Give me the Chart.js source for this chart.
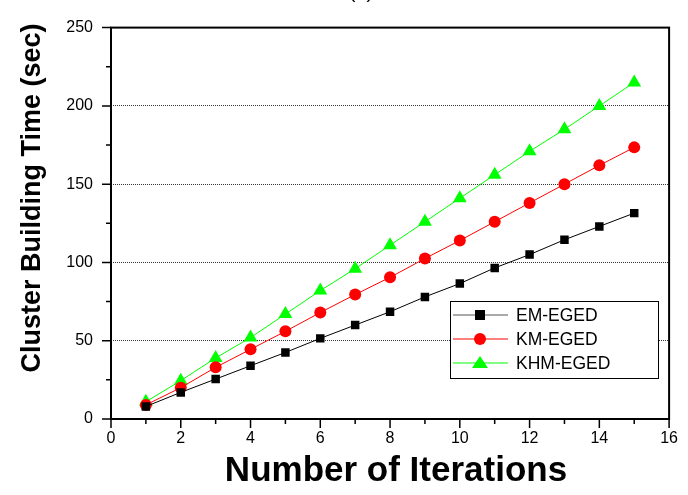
<!DOCTYPE html>
<html>
<head>
<meta charset="utf-8">
<script src="https://cdn.jsdelivr.net/npm/chart.js@4/dist/chart.umd.min.js"></script>
<style>
  html, body { margin: 0; padding: 0; background: #fff; }
  #wrap { width: 688px; height: 495px; }
</style>
</head>
<body>
<div id="wrap"><canvas id="js--chart"></canvas></div>
<script>
const iterations = [1, 2, 3, 4, 5, 6, 7, 8, 9, 10, 11, 12, 13, 14, 15];
const emEged = [8, 17, 25.5, 34, 42.5, 51.5, 60, 68.5, 78, 86.5, 96.5, 105, 114.5, 123, 131.5];
const kmEged = [9, 20, 33, 44.5, 56, 68, 79.5, 90.5, 102.5, 114, 126, 138, 150, 162, 173.5];
const khmEged = [11, 24.5, 39, 52, 67, 82, 96, 111, 126, 141, 156, 171, 185, 200, 215];
const xTicks = [0, 2, 4, 6, 8, 10, 12, 14, 16];
const yTicks = [0, 50, 100, 150, 200, 250];

const toPoints = (vals) => vals.map((v, i) => ({ x: iterations[i], y: v }));

const frame = {
    id: "frame",
    afterDraw(chart) {
        const ctx = chart.ctx;
        const area = chart.chartArea;
        const x = chart.scales.x;
        const y = chart.scales.y;
        ctx.save();
        ctx.strokeStyle = "#000";
        ctx.lineWidth = 2;
        ctx.strokeRect(area.left, area.top, area.right - area.left, area.bottom - area.top);

        // ticks, major and minor
        ctx.lineWidth = 1.5;
        ctx.beginPath();
        for (let v = 0; v <= 16; v++) {
            const px = x.getPixelForValue(v);
            const len = v % 2 === 0 ? 9 : 5;
            ctx.moveTo(px, area.bottom);
            ctx.lineTo(px, area.bottom + len);
        }
        for (let v = 0; v <= 250; v += 25) {
            const py = y.getPixelForValue(v);
            const len = v % 50 === 0 ? 9 : 5;
            ctx.moveTo(area.left, py);
            ctx.lineTo(area.left - len, py);
        }
        ctx.stroke();

        // axis titles
        ctx.fillStyle = "#000";
        ctx.font = "bold 35px Arial, 'Liberation Sans', sans-serif";
        ctx.textAlign = "center";
        ctx.textBaseline = "middle";
        ctx.fillText("Number of Iterations", 396, 471);
        ctx.save();
        ctx.translate(33, 198);
        ctx.rotate(-Math.PI / 2);
        ctx.font = "bold 27px Arial, 'Liberation Sans', sans-serif";
        ctx.fillText("Cluster Building Time (sec)", 0, 0);
        ctx.restore();

        // cut-off panel label
        ctx.font = "20px Arial, 'Liberation Sans', sans-serif";
        ctx.textBaseline = "alphabetic";
        ctx.fillText("(a)", 361, -2);

        // legend
        const lx = 450, ly = 301, lw = 208, lh = 77;
        ctx.fillStyle = "#fff";
        ctx.fillRect(lx, ly, lw, lh);
        ctx.strokeStyle = "#000";
        ctx.lineWidth = 1;
        ctx.strokeRect(lx + 0.5, ly + 0.5, lw, lh);
        const rows = [
            { label: "EM-EGED", line: "#555", fill: "#000", shape: "rect" },
            { label: "KM-EGED", line: "#f00", fill: "#f00", shape: "circle" },
            { label: "KHM-EGED", line: "#0f0", fill: "#0f0", shape: "triangle" }
        ];
        rows.forEach((r, i) => {
            const cy = ly + 14 + i * 24;
            ctx.strokeStyle = r.line;
            ctx.lineWidth = 1;
            ctx.beginPath();
            ctx.moveTo(lx + 3, cy);
            ctx.lineTo(lx + 58, cy);
            ctx.stroke();
            ctx.fillStyle = r.fill;
            const cx = lx + 30;
            if (r.shape === "rect") {
                ctx.fillRect(cx - 5, cy - 5, 10, 10);
            } else if (r.shape === "circle") {
                ctx.beginPath();
                ctx.arc(cx, cy, 6, 0, Math.PI * 2);
                ctx.fill();
            } else {
                ctx.beginPath();
                ctx.moveTo(cx, cy - 7);
                ctx.lineTo(cx + 8, cy + 5);
                ctx.lineTo(cx - 8, cy + 5);
                ctx.closePath();
                ctx.fill();
            }
            ctx.fillStyle = "#000";
            ctx.font = "17.5px Arial, 'Liberation Sans', sans-serif";
            ctx.textAlign = "left";
            ctx.textBaseline = "middle";
            ctx.fillText(r.label, lx + 66, cy + 1);
        });
        ctx.restore();
    }
};

const data = {
    datasets: [
        {
            label: "EM-EGED",
            data: toPoints(emEged),
            borderColor: "#000",
            backgroundColor: "#000",
            borderWidth: 1,
            pointStyle: "rect",
            pointRadius: 6,
            pointBorderWidth: 0
        },
        {
            label: "KM-EGED",
            data: toPoints(kmEged),
            borderColor: "#f00",
            backgroundColor: "#f00",
            borderWidth: 1,
            pointStyle: "circle",
            pointRadius: 6,
            pointBorderWidth: 0
        },
        {
            label: "KHM-EGED",
            data: toPoints(khmEged),
            borderColor: "#0f0",
            backgroundColor: "#0f0",
            borderWidth: 1,
            pointStyle: "triangle",
            pointRadius: 8,
            pointBorderWidth: 0
        }
    ]
};

const tickFont = { family: "Arial, 'Liberation Sans', sans-serif", size: 16 };

const config = {
    type: "line",
    data: data,
    options: {
        responsive: true,
        maintainAspectRatio: false,
        animation: false,
        events: [],
        layout: { padding: { top: 17, right: 12, left: 0, bottom: 0 } },
        plugins: { legend: { display: false }, tooltip: { enabled: false } },
        scales: {
            x: {
                type: "linear",
                min: 0,
                max: 16,
                afterFit: (s) => { s.height = 76; },
                afterBuildTicks: (s) => { s.ticks = xTicks.map((v) => ({ value: v })); },
                border: { display: false },
                grid: { display: false, drawTicks: false },
                ticks: { color: "#000", font: tickFont, padding: 10, maxRotation: 0 }
            },
            y: {
                type: "linear",
                min: 0,
                max: 250,
                afterFit: (s) => { s.width = 111; },
                afterBuildTicks: (s) => { s.ticks = yTicks.map((v) => ({ value: v })); },
                border: { display: false, dash: [1, 1] },
                grid: {
                    drawTicks: false,
                    color: (c) => (c.tick && c.tick.value > 0 && c.tick.value < 250 ? "#333" : "rgba(0,0,0,0)"),
                    lineWidth: 1
                },
                ticks: { color: "#000", font: tickFont, padding: 18 }
            }
        }
    },
    plugins: [frame]
};

const chart = new Chart(document.getElementById("js--chart"), config);
</script>
</body>
</html>
